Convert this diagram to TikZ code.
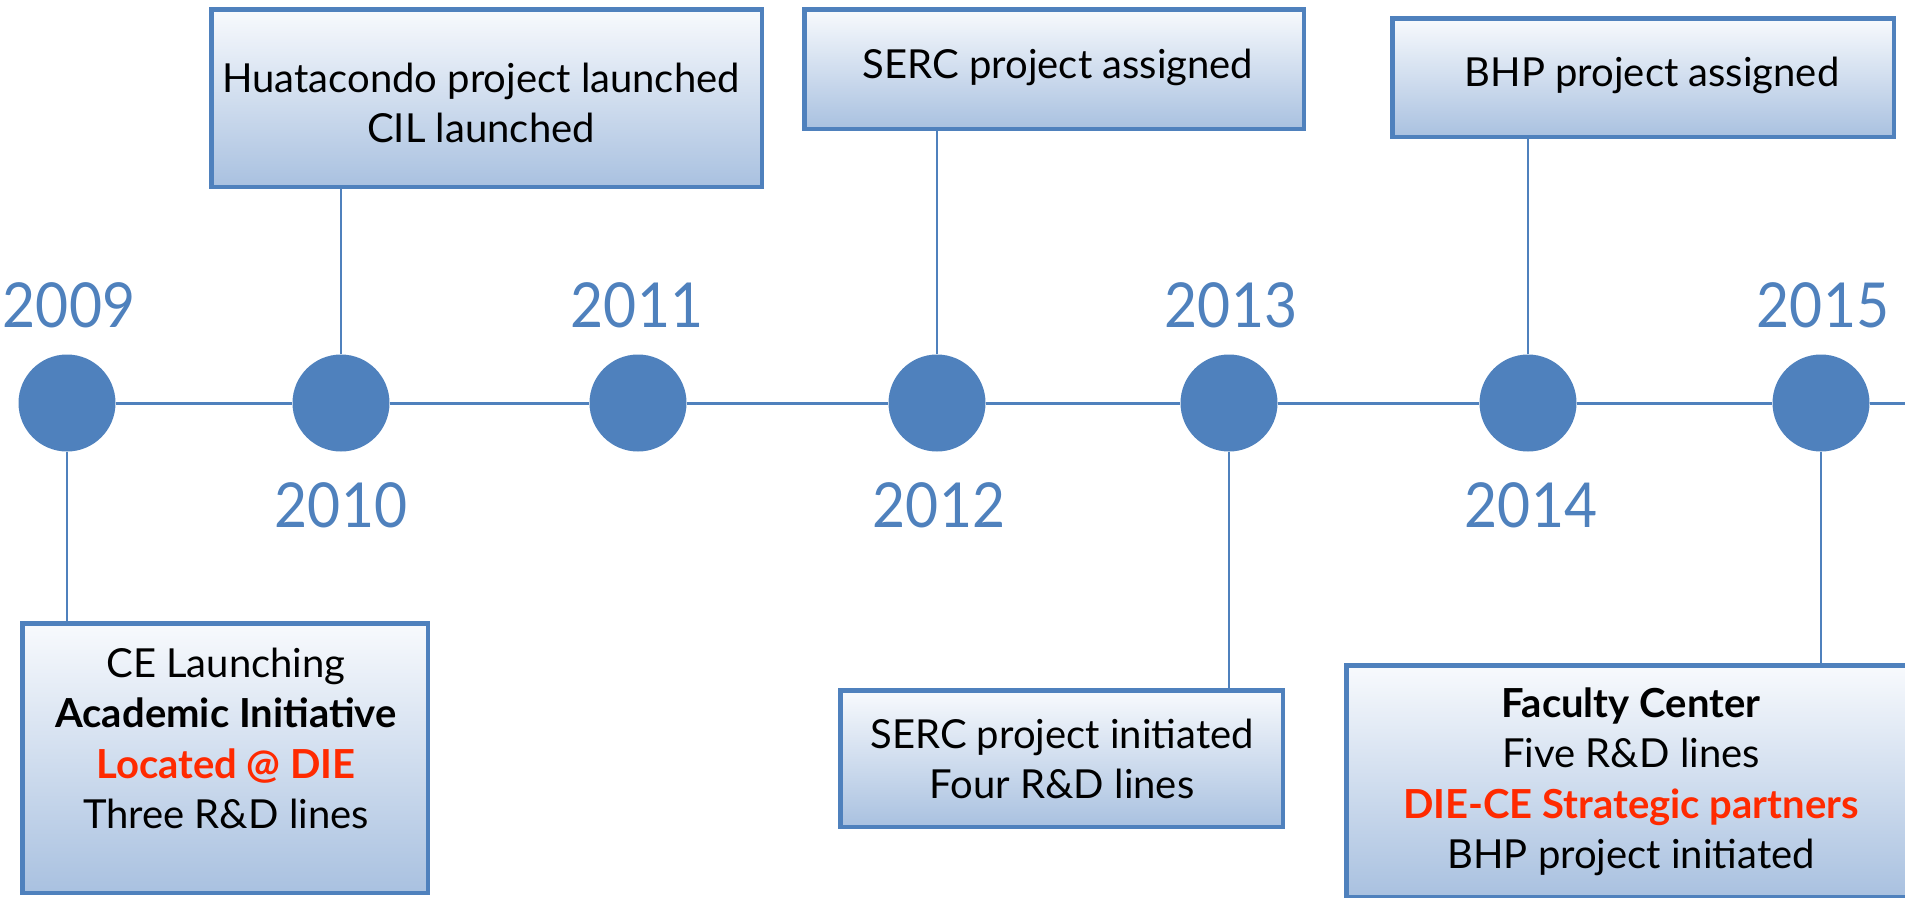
\documentclass[tikz,border=0pt]{standalone}
\usepackage{fontspec}
\setmainfont{Lato}
\newfontfamily\yearfont[FakeStretch=0.92]{Lato}
\definecolor{accent}{HTML}{4F81BD}
\definecolor{boxtop}{HTML}{F8FAFD}
\definecolor{boxbot}{HTML}{A9C1E0}
\definecolor{redtxt}{HTML}{FF2A00}
\newcommand{\mystrut}{\rule{0pt}{40pt}}
\begin{document}
\begin{tikzpicture}[x=1pt,y=-1pt,
  dot/.style={circle,fill=accent,minimum size=97pt,inner sep=0pt},
  year/.style={text=accent,font=\yearfont\fontsize{62}{62}\selectfont,anchor=base,inner sep=0pt},
  evbox/.style={draw=accent,line width=4.5pt,top color=boxtop,bottom color=boxbot,inner sep=0pt},
  evtext/.style={anchor=north,inner sep=0pt,align=center,font=\fontsize{40}{50.5}\selectfont},
  link/.style={draw=accent,line width=2.5pt},
  tl/.style={draw=accent,line width=3pt}]
\useasboundingbox (0,0) rectangle (1905,897);
% boxes
\node[evbox,minimum width=550.5pt,minimum height=177.5pt] (huat) at (486.5,98) {};
\node[evbox,minimum width=499.5pt,minimum height=119.5pt] (sercA) at (1054,69) {};
\node[evbox,minimum width=501.5pt,minimum height=118.5pt] (bhpA) at (1643,77.5) {};
\node[evbox,minimum width=405.5pt,minimum height=269.5pt] (ce) at (225,758) {};
\node[evbox,minimum width=442.5pt,minimum height=136.5pt] (sercI) at (1061.5,758.5) {};
\node[evbox,minimum width=571.5pt,minimum height=231.5pt] (fac) at (1632,781) {};
% texts
\node[evtext] (thuat) at (481,52) {\mystrut Huatacondo project launched\\CIL launched};
\node[evtext] (tsercA) at (1058,38) {\mystrut SERC project assigned};
\node[evtext] (tbhpA) at (1652,46) {\mystrut BHP project assigned};
\node[evtext] (tce) at (226,637) {\mystrut CE Launching\\\textbf{Academic Initiative}\\\textcolor{redtxt}{\textbf{Located @ DIE}}\\Three R\&D lines};
\node[evtext] (tsercI) at (1062,708) {\mystrut SERC project initiated\\Four R\&D lines};
\node[evtext] (tfac) at (1631,677) {\mystrut\textbf{Faculty Center}\\Five R\&D lines\\\textcolor{redtxt}{\textbf{DIE-CE Strategic partners}}\\BHP project initiated};
% circles
\node[dot] (c1) at (67,403) {};
\node[dot] (c2) at (341,403) {};
\node[dot] (c3) at (638,403) {};
\node[dot] (c4) at (937,403) {};
\node[dot] (c5) at (1229,403) {};
\node[dot] (c6) at (1528,403) {};
\node[dot] (c7) at (1821,403) {};
\coordinate (tlend) at (1905,403);
% timeline
\draw[tl] (c1) -- (c2);
\draw[tl] (c2) -- (c3);
\draw[tl] (c3) -- (c4);
\draw[tl] (c4) -- (c5);
\draw[tl] (c5) -- (c6);
\draw[tl] (c6) -- (c7);
\draw[tl] (c7) -- (tlend);
% connectors
\draw[link] (c1.south) -- (c1.south |- ce.north);
\draw[link] (c2.north) -- (c2.north |- huat.south);
\draw[link] (c4.north) -- (c4.north |- sercA.south);
\draw[link] (c5.south) -- (c5.south |- sercI.north);
\draw[link] (c6.north) -- (c6.north |- bhpA.south);
\draw[link] (c7.south) -- (c7.south |- fac.north);
% years
\node[year] (y2009) at (69,327) {2009};
\node[year] (y2011) at (637,327) {2011};
\node[year] (y2013) at (1231,327) {2013};
\node[year] (y2015) at (1823,327) {2015};
\node[year] (y2010) at (341,527) {2010};
\node[year] (y2012) at (939,527) {2012};
\node[year] (y2014) at (1531,527) {2014};
\end{tikzpicture}
\end{document}
